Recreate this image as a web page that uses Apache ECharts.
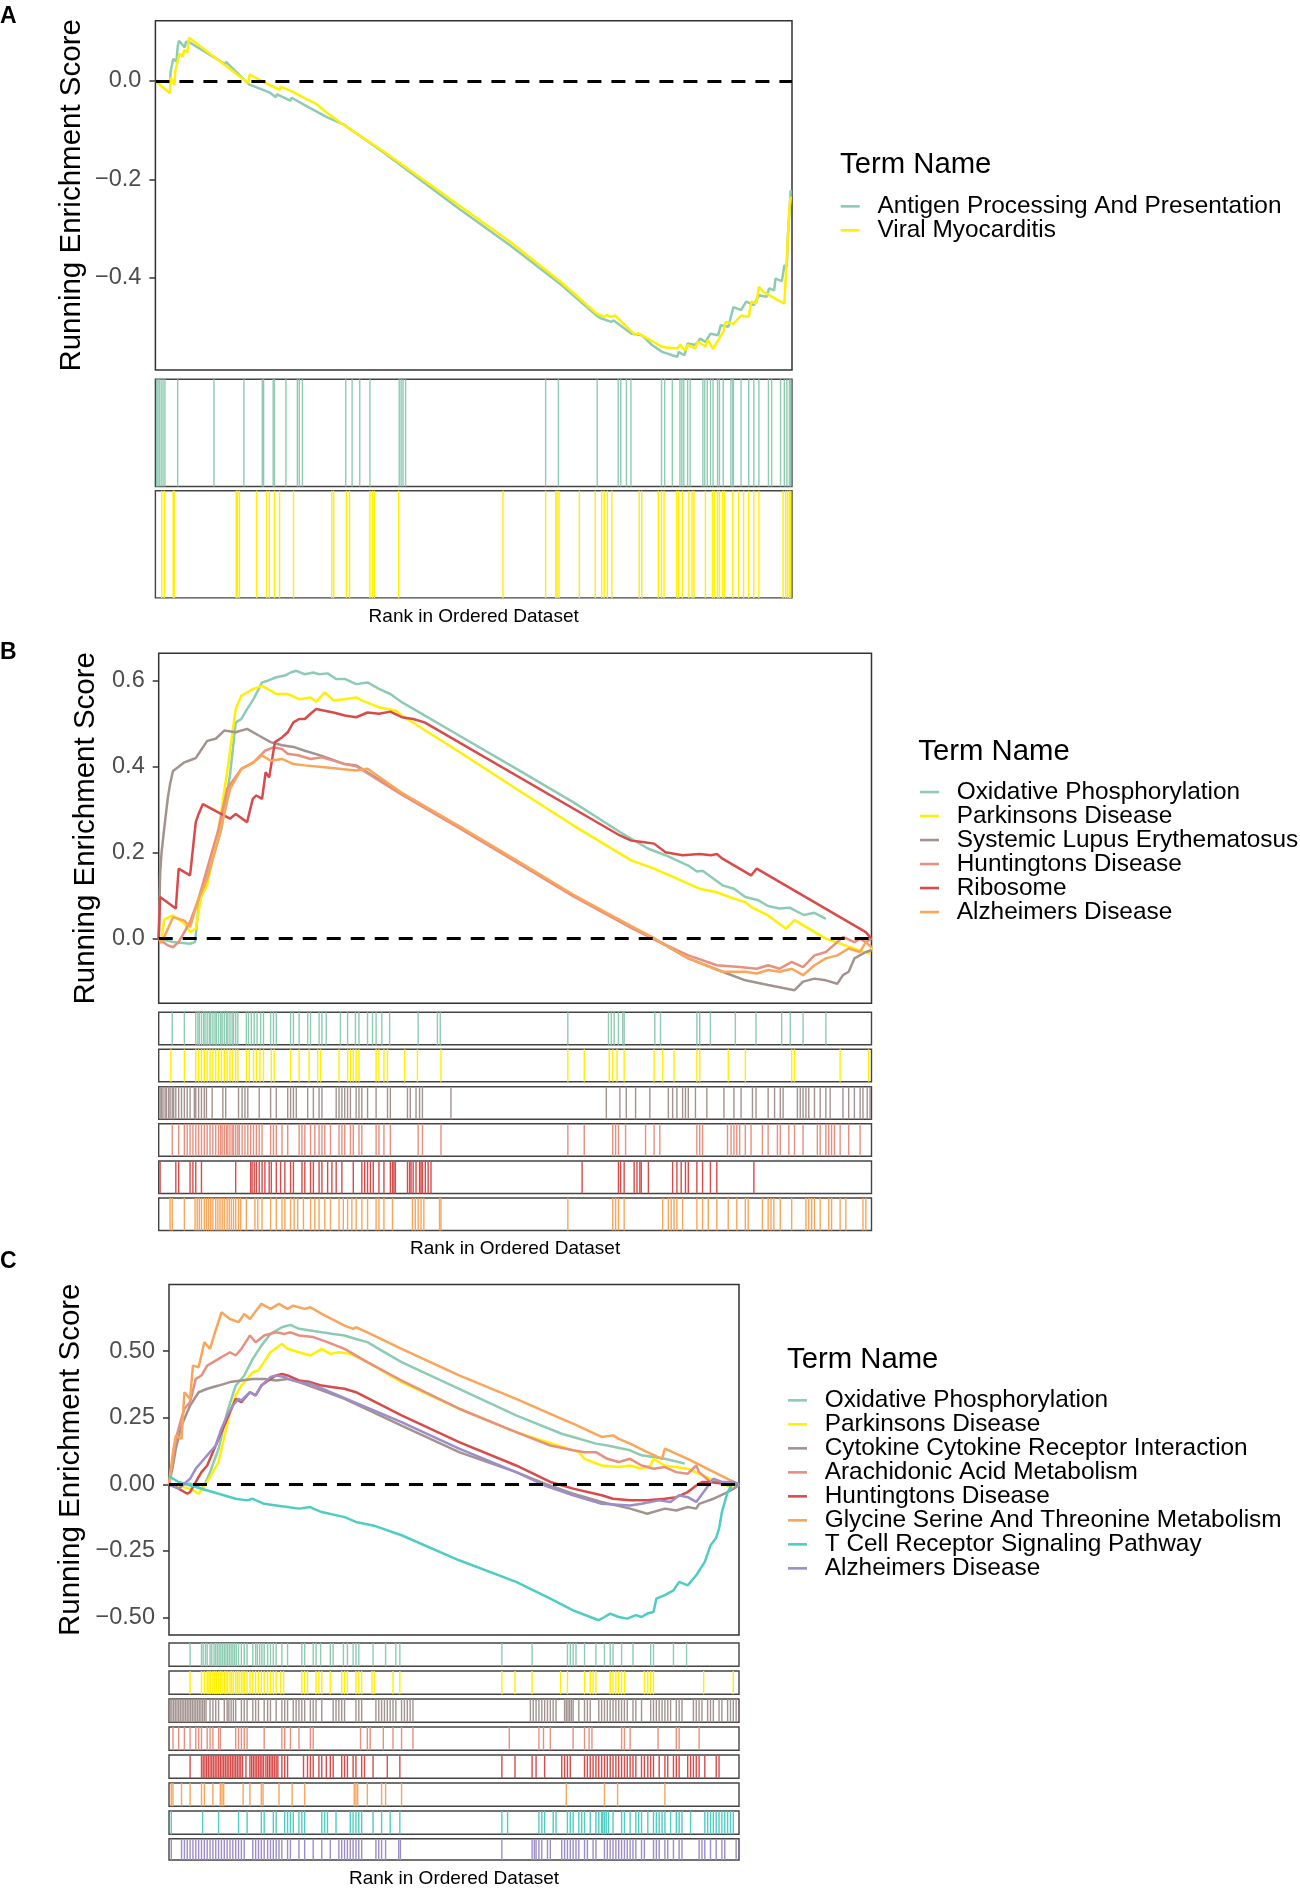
<!DOCTYPE html>
<html><head><meta charset="utf-8">
<script src="https://cdn.jsdelivr.net/npm/echarts@6/dist/echarts.min.js"></script>
<style>html,body{margin:0;padding:0;background:#fff}#c{width:1300px;height:1889px}</style>
</head><body><div id="c"></div>
<script>
// ranks are expressed on a 0..1000 scale of the ordered dataset
const N = 1000;

// ---------- Panel A ----------
const termsA = ['Antigen Processing And Presentation', 'Viral Myocarditis'];
const antigenES = [[0,0],[23,-0.002],[24,0.02],[27,0.016],[28,0.045],[33,0.04],[35,0.07],[37,0.082],[43,0.073],[46,0.068],[48,0.08],[53,0.079],[110,0.034],[111,0.039],[147,-0.007],[179,-0.023],[189,-0.033],[191,-0.027],[212,-0.04],[214,-0.034],[236,-0.05],[238,-0.046],[270,-0.074],[294,-0.087],[357,-0.144],[477,-0.26],[557,-0.334],[637,-0.414],[693,-0.477],[700,-0.483],[716,-0.49],[720,-0.487],[748,-0.514],[764,-0.517],[780,-0.537],[796,-0.551],[812,-0.558],[820,-0.561],[822,-0.551],[831,-0.558],[836,-0.534],[848,-0.537],[856,-0.524],[864,-0.531],[872,-0.514],[884,-0.517],[888,-0.497],[900,-0.5],[908,-0.46],[920,-0.466],[928,-0.449],[940,-0.456],[948,-0.436],[960,-0.439],[964,-0.422],[972,-0.426],[974,-0.402],[984,-0.407],[988,-0.375],[992,-0.378],[993,-0.327],[996,-0.327],[998,-0.222]];
const viralES = [[0,0],[23,-0.025],[24,0.007],[30,-0.008],[31,0.019],[38,0.056],[43,0.049],[45,0.063],[50,0.058],[53,0.088],[146,-0.004],[148,0.013],[179,-0.008],[195,-0.018],[197,-0.012],[213,-0.02],[215,-0.016],[236,-0.036],[252,-0.046],[270,-0.065],[293,-0.087],[357,-0.142],[557,-0.327],[637,-0.409],[693,-0.473],[705,-0.48],[709,-0.476],[716,-0.48],[722,-0.477],[754,-0.517],[758,-0.513],[787,-0.534],[796,-0.541],[820,-0.544],[824,-0.537],[832,-0.548],[836,-0.537],[848,-0.544],[852,-0.53],[864,-0.54],[868,-0.527],[876,-0.545],[884,-0.527],[892,-0.51],[896,-0.49],[908,-0.494],[920,-0.477],[932,-0.48],[936,-0.449],[944,-0.452],[948,-0.419],[956,-0.43],[988,-0.453],[996,-0.26],[998,-0.235]];
const antigenHits = [2,4,6,9,12,15,35,92,139,168,170,185,187,205,223,226,231,299,309,321,337,383,386,389,393,613,633,694,727,731,740,747,795,800,812,824,827,830,836,840,860,863,867,872,876,883,886,892,904,907,908,920,932,940,948,963,968,982,988,992,996,998];
const viralHits = [10,14,28,30,127,129,132,159,175,179,187,195,217,277,280,300,305,337,341,344,382,546,613,629,631,634,666,691,701,705,710,717,760,764,790,795,799,819,822,828,838,843,846,864,875,878,883,886,891,894,907,916,924,932,940,948,986,990,993,996,998];

// ---------- Panel B ----------
const termsB = ['Oxidative Phosphorylation','Parkinsons Disease','Systemic Lupus Erythematosus','Huntingtons Disease','Ribosome','Alzheimers Disease'];
const bOxES = [[0,0],[20,-0.008],[44,-0.012],[51,-0.008],[56,0.077],[68,0.147],[88,0.255],[100,0.38],[108,0.503],[116,0.511],[124,0.534],[133,0.557],[145,0.596],[153,0.6],[165,0.608],[177,0.612],[185,0.619],[193,0.623],[205,0.615],[217,0.619],[225,0.615],[237,0.617],[249,0.604],[261,0.604],[277,0.592],[293,0.596],[309,0.581],[325,0.569],[341,0.55],[422,0.472],[502,0.395],[582,0.317],[647,0.248],[687,0.209],[711,0.194],[743,0.17],[755,0.156],[763,0.158],[791,0.124],[807,0.116],[823,0.097],[840,0.09],[855,0.076],[871,0.07],[885,0.072],[905,0.055],[920,0.06],[936,0.046]];
const bParkES = [[0,0],[4,0],[8,0.045],[20,0.054],[36,0.035],[44,0.015],[52,0.023],[60,0.1],[68,0.124],[84,0.255],[96,0.387],[108,0.534],[116,0.565],[133,0.581],[145,0.588],[157,0.577],[165,0.569],[181,0.569],[197,0.557],[213,0.561],[221,0.551],[233,0.573],[245,0.554],[261,0.557],[277,0.561],[285,0.554],[309,0.538],[333,0.53],[341,0.519],[422,0.434],[502,0.348],[582,0.263],[663,0.182],[695,0.163],[711,0.151],[743,0.128],[759,0.116],[783,0.108],[807,0.093],[823,0.085],[831,0.074],[855,0.054],[880,0.023],[892,0.043],[936,0],[996,-0.035],[1000,-0.02]];
const bSleES = [[0,0],[2,0.15],[4,0.2],[8,0.26],[13,0.33],[16,0.36],[20,0.39],[28,0.4],[36,0.41],[44,0.415],[52,0.42],[60,0.44],[68,0.46],[80,0.465],[92,0.484],[108,0.48],[124,0.488],[141,0.472],[157,0.457],[173,0.45],[189,0.446],[205,0.437],[229,0.425],[261,0.406],[277,0.403],[341,0.337],[422,0.259],[502,0.18],[582,0.1],[663,0.027],[695,0],[743,-0.046],[791,-0.077],[823,-0.097],[855,-0.108],[892,-0.12],[904,-0.1],[920,-0.093],[936,-0.097],[952,-0.105],[960,-0.085],[968,-0.077],[976,-0.046],[992,-0.031],[1000,-0.027]];
const bHuntES = [[0,0],[12,-0.015],[20,-0.02],[28,-0.008],[44,0.039],[56,0.093],[68,0.163],[84,0.255],[96,0.348],[116,0.395],[133,0.41],[149,0.437],[161,0.445],[173,0.441],[181,0.43],[197,0.426],[213,0.418],[229,0.422],[245,0.414],[261,0.406],[277,0.401],[341,0.335],[422,0.257],[502,0.178],[582,0.098],[663,0.025],[695,-0.002],[743,-0.039],[783,-0.062],[815,-0.066],[839,-0.07],[855,-0.062],[871,-0.07],[888,-0.054],[904,-0.066],[920,-0.039],[936,-0.031],[952,-0.008],[960,0.004],[976,-0.008],[984,0],[992,-0.008],[1000,0]];
const bRiboES = [[0,0],[2,0.097],[24,0.07],[28,0.163],[44,0.147],[52,0.271],[56,0.29],[62,0.313],[100,0.279],[108,0.29],[124,0.271],[132,0.325],[137,0.333],[145,0.325],[150,0.387],[155,0.375],[163,0.457],[173,0.468],[181,0.48],[189,0.503],[197,0.511],[205,0.511],[213,0.523],[221,0.534],[233,0.53],[245,0.526],[261,0.519],[277,0.515],[293,0.526],[309,0.523],[325,0.528],[341,0.515],[357,0.511],[373,0.503],[647,0.24],[663,0.228],[679,0.225],[695,0.221],[711,0.201],[735,0.194],[759,0.197],[775,0.194],[783,0.197],[791,0.186],[831,0.147],[839,0.163],[992,0.015],[1000,0]];
const bAlzES = [[0,0],[4,-0.01],[20,0.05],[28,0.046],[36,0.042],[44,0.027],[56,0.093],[68,0.139],[84,0.232],[100,0.348],[116,0.395],[133,0.41],[145,0.426],[157,0.414],[173,0.418],[189,0.406],[205,0.403],[229,0.399],[253,0.395],[277,0.391],[293,0.395],[341,0.339],[422,0.261],[502,0.182],[582,0.102],[663,0.029],[695,0.001],[743,-0.046],[791,-0.077],[823,-0.077],[839,-0.081],[855,-0.073],[871,-0.077],[888,-0.07],[904,-0.085],[920,-0.062],[936,-0.046],[952,-0.039],[968,-0.023],[984,-0.031],[992,-0.008],[1000,-0.02]];
const bOxHits = [19,36,52,55,57,60,63,65,68,71,73,76,79,81,84,87,89,92,95,97,100,103,105,108,111,123,126,130,134,138,143,147,157,161,165,185,189,197,209,213,225,229,235,255,265,276,281,293,300,305,313,324,364,391,395,574,631,635,639,645,651,653,696,704,755,759,774,809,838,874,886,904,936];
const bParkHits = [17,36,52,56,60,64,68,72,76,80,84,88,92,96,100,104,108,111,123,127,133,137,142,147,158,162,185,197,211,223,227,253,265,269,273,277,281,305,309,316,321,345,363,396,574,597,632,637,643,653,695,707,723,755,759,799,823,888,892,956,996];
const bSleHits = [2,4,6,9,11,14,16,19,21,24,28,32,36,40,44,50,52,56,60,64,67,75,90,94,112,117,121,125,141,157,165,181,185,189,193,209,217,225,229,249,253,257,261,265,269,277,281,285,293,305,321,325,349,353,361,366,370,410,628,647,656,669,689,715,721,727,735,739,743,753,769,793,807,817,833,838,855,864,872,876,896,900,904,908,912,920,928,936,942,960,968,976,984,988,994,998];
const bHuntHits = [19,28,36,40,44,48,52,56,60,64,68,72,76,80,84,87,89,92,95,97,100,103,105,108,111,113,117,121,125,129,133,137,141,145,157,161,165,173,181,197,201,205,213,219,225,229,233,241,253,257,261,269,273,281,285,305,309,316,325,364,370,396,574,597,637,641,645,655,683,695,703,755,759,763,798,803,807,811,815,823,831,847,855,868,872,884,892,904,924,928,936,940,944,948,956,968,984];
const bRiboHits = [2,24,28,44,48,52,60,108,129,131,134,137,141,145,149,155,158,165,171,177,185,189,201,205,213,217,225,229,237,243,249,257,273,285,289,293,297,301,309,316,325,328,330,332,349,352,354,357,361,366,368,370,374,378,382,594,645,648,653,667,671,675,677,687,721,727,733,739,743,755,763,774,783,835];
const bAlzHits = [16,19,36,51,54,57,60,64,67,70,73,76,80,83,86,89,92,96,99,102,105,108,112,115,123,135,139,145,157,165,173,177,185,190,195,203,213,219,225,233,241,253,259,265,271,277,285,293,305,309,316,328,356,360,364,368,372,394,396,574,637,641,645,653,707,715,719,723,727,735,755,763,771,783,799,811,823,827,847,855,859,863,872,888,908,912,916,920,928,940,944,956,964,988,992];

// ---------- Panel C ----------
const termsC = ['Oxidative Phosphorylation','Parkinsons Disease','Cytokine Cytokine Receptor Interaction','Arachidonic Acid Metabolism','Huntingtons Disease','Glycine Serine And Threonine Metabolism','T Cell Receptor Signaling Pathway','Alzheimers Disease'];
const cOxES = [[0,0],[17,-0.004],[37,0.003],[57,-0.016],[62,-0.004],[72,0.046],[87,0.134],[102,0.271],[117,0.371],[132,0.409],[147,0.471],[162,0.521],[178,0.565],[198,0.59],[213,0.599],[228,0.584],[248,0.578],[268,0.571],[288,0.565],[308,0.559],[328,0.546],[348,0.534],[368,0.509],[408,0.459],[509,0.359],[609,0.259],[689,0.19],[709,0.178],[749,0.153],[769,0.146],[809,0.128],[829,0.109],[850,0.103],[870,0.096],[905,0.078]];
const cParkES = [[0,0],[37,-0.016],[52,-0.035],[57,-0.02],[67,0.009],[87,0.084],[107,0.271],[117,0.334],[127,0.371],[147,0.421],[157,0.428],[178,0.496],[198,0.527],[208,0.509],[228,0.496],[248,0.484],[268,0.509],[283,0.49],[298,0.496],[318,0.49],[348,0.459],[408,0.384],[509,0.284],[609,0.196],[719,0.121],[729,0.096],[759,0.071],[789,0.065],[809,0.071],[829,0.059],[845,0.071],[850,0.096],[870,0.071],[910,0.059],[930,0.04],[950,0.021],[975,0],[990,-0.016],[1000,0]];
const cCytoES = [[0,0],[7,0.071],[12,0.134],[22,0.221],[37,0.296],[52,0.346],[67,0.359],[87,0.371],[107,0.384],[127,0.39],[147,0.396],[167,0.396],[188,0.39],[208,0.396],[228,0.384],[268,0.353],[308,0.321],[408,0.221],[509,0.121],[609,0.046],[659,0.003],[709,-0.035],[759,-0.066],[809,-0.091],[839,-0.11],[870,-0.091],[890,-0.098],[910,-0.085],[925,-0.091],[930,-0.073],[955,-0.054],[980,-0.029],[995,-0.01],[1000,0]];
const cArachES = [[0,0],[7,0.096],[12,0.171],[22,0.25],[27,0.284],[37,0.309],[47,0.396],[57,0.409],[67,0.446],[87,0.471],[107,0.496],[117,0.484],[127,0.509],[142,0.559],[152,0.534],[167,0.559],[188,0.571],[203,0.565],[213,0.571],[228,0.559],[253,0.553],[278,0.534],[308,0.509],[348,0.459],[408,0.39],[509,0.284],[609,0.196],[669,0.146],[709,0.128],[729,0.121],[749,0.121],[769,0.096],[789,0.084],[809,0.096],[829,0.071],[850,0.059],[870,0.065],[890,0.046],[910,0.04],[925,0.071],[930,0.046],[950,0.009],[1000,0]];
const cHuntES = [[0,0],[17,-0.016],[32,-0.035],[37,-0.029],[47,0.009],[57,0.046],[67,0.071],[87,0.171],[107,0.271],[117,0.321],[127,0.309],[142,0.346],[152,0.334],[162,0.371],[178,0.396],[188,0.409],[198,0.415],[208,0.409],[228,0.39],[248,0.384],[268,0.371],[288,0.365],[308,0.359],[328,0.346],[408,0.259],[509,0.159],[609,0.071],[669,0.009],[709,-0.016],[759,-0.041],[779,-0.054],[809,-0.06],[839,-0.06],[870,-0.054],[890,-0.048],[910,-0.029],[925,-0.004],[935,0.009],[950,0.009],[970,0.003],[1000,0]];
const cGlyES = [[0,0],[7,0.121],[12,0.184],[22,0.171],[27,0.346],[37,0.321],[42,0.446],[52,0.44],[62,0.534],[72,0.509],[79,0.559],[92,0.646],[107,0.621],[122,0.609],[132,0.64],[142,0.621],[162,0.678],[178,0.659],[193,0.678],[208,0.659],[218,0.671],[238,0.659],[248,0.665],[268,0.64],[308,0.596],[323,0.584],[328,0.59],[348,0.571],[408,0.509],[509,0.409],[609,0.321],[689,0.246],[709,0.228],[759,0.178],[779,0.184],[789,0.171],[809,0.153],[839,0.121],[865,0.096],[870,0.134],[910,0.096],[950,0.053],[980,0.021],[1000,0]];
const cTcellES = [[0,0.03],[17,0.009],[47,-0.01],[87,-0.035],[117,-0.054],[137,-0.06],[147,-0.054],[167,-0.073],[188,-0.079],[208,-0.085],[228,-0.091],[248,-0.085],[253,-0.091],[268,-0.104],[308,-0.123],[328,-0.141],[358,-0.154],[408,-0.191],[509,-0.285],[609,-0.366],[669,-0.429],[709,-0.473],[739,-0.498],[754,-0.51],[764,-0.498],[774,-0.485],[789,-0.498],[804,-0.504],[819,-0.491],[829,-0.498],[839,-0.485],[850,-0.479],[855,-0.429],[870,-0.416],[885,-0.398],[895,-0.366],[910,-0.379],[925,-0.341],[940,-0.291],[950,-0.229],[960,-0.2],[965,-0.166],[970,-0.104],[980,-0.029],[990,0.009],[1000,0]];
const cAlzES = [[0,0],[17,-0.016],[37,0.021],[47,0.059],[57,0.084],[67,0.109],[82,0.146],[92,0.209],[102,0.259],[112,0.296],[122,0.321],[127,0.315],[142,0.346],[152,0.334],[162,0.371],[178,0.403],[188,0.409],[203,0.403],[208,0.396],[228,0.384],[248,0.378],[408,0.234],[509,0.134],[609,0.046],[659,-0.004],[709,-0.041],[759,-0.073],[809,-0.079],[829,-0.073],[860,-0.06],[880,-0.066],[895,-0.041],[910,-0.048],[925,-0.066],[955,0.021],[970,0.009],[990,0.009],[1000,0]];
const cOxHits = [37,57,60,64,67,72,75,79,82,85,88,91,94,97,100,103,106,109,112,115,118,122,127,132,137,147,152,155,159,163,167,173,178,183,188,198,208,233,238,253,258,266,283,288,306,313,323,328,333,358,380,398,405,584,637,699,704,709,714,729,749,764,774,779,794,814,845,850,885,908];
const cParkHits = [37,57,62,67,70,73,77,80,83,87,90,93,97,100,103,107,110,113,117,120,123,127,130,133,137,142,147,152,157,162,167,173,178,183,188,196,201,233,238,243,258,263,268,283,303,308,313,328,333,338,356,360,393,405,584,607,637,687,699,729,739,744,749,774,779,784,789,794,799,834,840,845,850,938,990];
const cCytoHits = [2,5,8,11,14,17,20,23,26,29,32,35,38,41,44,47,50,53,56,59,62,65,72,77,82,87,97,102,105,109,113,117,127,132,137,147,152,157,167,173,178,188,198,203,208,218,223,228,233,238,248,253,258,268,288,293,298,303,308,328,333,338,363,368,373,378,383,388,393,398,408,413,418,423,428,634,639,644,649,654,659,664,669,674,679,694,697,700,703,706,709,719,729,734,739,754,759,764,769,774,779,784,789,794,799,804,814,819,829,845,850,855,860,865,870,875,880,890,895,900,920,925,930,935,945,950,955,965,970,980,985,990,995];
const cArachHits = [7,17,27,37,47,52,57,67,72,77,87,90,117,122,127,132,137,167,198,203,213,228,248,253,336,348,353,376,393,408,428,597,649,657,669,709,729,737,742,794,799,809,858,890,895,930];
const cHuntHits = [37,57,60,63,66,69,72,75,78,81,84,87,90,93,96,99,102,105,108,111,114,117,120,123,126,129,135,142,145,148,151,154,157,160,163,166,170,173,176,179,182,185,188,191,198,203,208,236,243,248,253,263,268,276,283,288,303,308,313,323,328,338,343,358,383,405,584,607,637,644,659,689,694,699,704,729,734,739,744,749,754,759,764,769,774,779,784,789,794,799,804,809,814,819,829,834,840,845,850,860,870,875,885,890,895,910,915,920,925,930,940,960,965];
const cGlyHits = [4,7,22,37,57,62,77,90,93,96,130,142,162,165,193,216,238,325,328,331,348,373,380,408,697,764,787,870];
const cTcellHits = [4,59,87,122,137,162,167,183,188,203,208,213,218,228,233,238,268,273,278,293,318,323,328,333,338,358,373,388,405,584,594,649,654,659,674,679,699,704,709,719,724,729,739,749,754,759,761,764,767,771,779,794,799,809,819,824,829,840,850,855,860,865,870,880,890,895,900,915,940,945,950,955,960,965,970,975,980,985,990];
const cAlzHits = [4,22,27,32,37,42,47,52,57,62,67,72,77,82,87,92,97,102,107,112,117,122,127,132,147,152,157,162,167,173,178,183,188,193,198,208,213,228,238,253,268,283,298,303,308,313,318,323,328,333,338,363,368,373,380,403,406,584,637,641,644,649,654,664,669,689,694,699,704,709,714,719,729,734,744,749,764,769,774,779,784,789,794,799,804,809,814,819,829,834,850,855,860,870,875,885,895,900,930,935,940,950,960,970,975,995];

// ---------- styling / layout ----------
const COL = {green:'#8ECBB3', yellow:'#FFEF00', taupe:'#A39390', salmon:'#E8907F', red:'#D84B4B', orange:'#F9A65A', teal:'#4ECDC4', purple:'#9D8DC9'};
const FONT = '"Liberation Sans", Arial, Helvetica, sans-serif';

const panels = [
  {letter:'A', terms:termsA, colors:[COL.green, COL.yellow], es:[antigenES, viralES], hits:[antigenHits, viralHits],
   left:155.4, width:636.6, mainTop:20.7, mainH:349.3, rugTops:[379.3,490.7], rugH:107.2,
   ymin:-0.5879, ymax:0.1227, ticks:[-0.4,-0.2,0], dec:1, nameGap:69, letterTop:5,
   titleLeft:840, titleTop:150.8, legLeft:840.7, legTop:194.35},
  {letter:'B', terms:termsB, colors:[COL.green, COL.yellow, COL.taupe, COL.salmon, COL.red, COL.orange],
   es:[bOxES, bParkES, bSleES, bHuntES, bRiboES, bAlzES], hits:[bOxHits, bParkHits, bSleHits, bHuntHits, bRiboHits, bAlzHits],
   left:158.7, width:712.8, mainTop:653.3, mainH:350, rugTops:[1012.3,1049.3,1086.7,1123.7,1161,1198], rugH:32.5,
   ymin:-0.1504, ymax:0.6637, ticks:[0,0.2,0.4,0.6], dec:1, nameGap:57, letterTop:641.5,
   titleLeft:918.3, titleTop:737.5, legLeft:920, legTop:780.05},
  {letter:'C', terms:termsC, colors:[COL.green, COL.yellow, COL.taupe, COL.salmon, COL.red, COL.orange, COL.teal, COL.purple],
   es:[cOxES, cParkES, cCytoES, cArachES, cHuntES, cGlyES, cTcellES, cAlzES],
   hits:[cOxHits, cParkHits, cCytoHits, cArachHits, cHuntHits, cGlyHits, cTcellHits, cAlzHits],
   left:169, width:570, mainTop:1284.5, mainH:350.5, rugTops:[1643,1671,1699,1727,1755,1783,1811,1838.7], rugH:23.3,
   ymin:-0.5655, ymax:0.7505, ticks:[-0.5,-0.25,0,0.25,0.5], dec:2, nameGap:83.5, letterTop:1250.5,
   titleLeft:787, titleTop:1345.1, legLeft:788, legTop:1388.35}
];

const grid = [], xAxis = [], yAxis = [], series = [], title = [], legend = [];

panels.forEach(p => {
  // main plot
  const gi = grid.length;
  grid.push({left:p.left, top:p.mainTop, width:p.width, height:p.mainH, show:true, borderColor:'#333', borderWidth:1.5, backgroundColor:'#fff', containLabel:false});
  xAxis.push({gridIndex:gi, type:'value', min:0, max:N, show:false});
  const dec = p.dec;
  yAxis.push({gridIndex:gi, type:'value', min:p.ymin, max:p.ymax,
    name:'Running Enrichment Score', nameLocation:'middle', nameRotate:90, nameGap:p.nameGap,
    nameTextStyle:{fontSize:29.5, color:'#000', fontFamily:FONT},
    axisLine:{show:false},
    axisTick:{show:true, length:6, customValues:p.ticks, lineStyle:{color:'#333', width:1.5}},
    axisLabel:{show:true, customValues:p.ticks, fontSize:23.5, color:'#4D4D4D', margin:14, fontFamily:FONT,
      formatter: v => (v < 0 ? '\u2212' : '') + Math.abs(v).toFixed(dec)},
    splitLine:{show:false}});
  p.es.forEach((d, k) => {
    const s = {type:'line', name:p.terms[k], xAxisIndex:gi, yAxisIndex:gi, data:d,
      symbol:'none', showSymbol:false, lineStyle:{color:p.colors[k], width:2.5}, itemStyle:{color:p.colors[k]},
      z:2, animation:false};
    if (k === p.es.length - 1) {
      s.markLine = {silent:true, symbol:'none', label:{show:false}, data:[{yAxis:0}],
        lineStyle:{color:'#000', width:2.8, type:[14,10]}, animation:false};
    }
    series.push(s);
  });
  // rug panels
  p.hits.forEach((h, k) => {
    const ri = grid.length;
    grid.push({left:p.left, top:p.rugTops[k], width:p.width, height:p.rugH, show:true, borderColor:'#444', borderWidth:1.4, backgroundColor:'#fff'});
    const last = k === p.hits.length - 1;
    xAxis.push({gridIndex:ri, type:'value', min:0, max:N, show:last,
      axisLine:{show:false}, axisTick:{show:false}, axisLabel:{show:false}, splitLine:{show:false},
      name: last ? 'Rank in Ordered Dataset' : '', nameLocation:'middle', nameGap:9,
      nameTextStyle:{fontSize:19, color:'#000', fontFamily:FONT}});
    yAxis.push({gridIndex:ri, type:'value', min:0, max:1, show:false});
    const color = p.colors[k];
    series.push({type:'custom', name:p.terms[k], xAxisIndex:ri, yAxisIndex:ri, silent:true, animation:false,
      data:h.map(v => [v, 0]), encode:{x:0, y:1},
      renderItem:(params, api) => {
        const x = api.value(0);
        const a = api.coord([x, 0]);
        const b = api.coord([x, 1]);
        return {type:'line', shape:{x1:a[0], y1:a[1], x2:b[0], y2:b[1]}, style:{stroke:color, lineWidth:1.4}};
      }});
  });
  // titles
  title.push({text:p.letter, left:0, top:p.letterTop, padding:0,
    textStyle:{fontSize:23, fontWeight:'bold', color:'#000', lineHeight:23, fontFamily:FONT}});
  title.push({text:'Term Name', left:p.titleLeft, top:p.titleTop, padding:0,
    textStyle:{fontSize:29.3, fontWeight:'normal', color:'#000', lineHeight:29, fontFamily:FONT}});
  legend.push({orient:'vertical', left:p.legLeft, top:p.legTop, padding:0, itemGap:0,
    icon:'rect', itemWidth:19, itemHeight:2.6,
    textStyle:{fontSize:24.4, lineHeight:23.3, color:'#000', fontFamily:FONT, padding:[0,0,0,12.7]},
    data:p.terms.map((t, k) => ({name:t, icon:'rect', itemStyle:{color:p.colors[k], borderWidth:0}}))});
});

const chart = echarts.init(document.getElementById('c'), null, {renderer:'canvas', width:1300, height:1889});
chart.setOption({
  backgroundColor:'#fff', animation:false,
  textStyle:{fontFamily:FONT},
  title, legend, grid, xAxis, yAxis, series
});
</script></body></html>
